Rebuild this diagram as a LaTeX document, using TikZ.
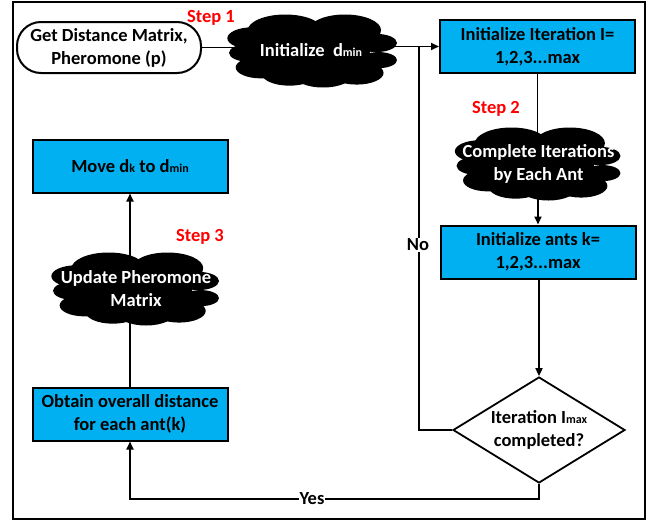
\documentclass[tikz,border=0pt]{standalone}
\usepackage{fontspec}
\setmainfont{Carlito}
\usetikzlibrary{shapes.geometric,arrows.meta}
\definecolor{boxblue}{HTML}{00B0F0}
\definecolor{stepred}{HTML}{FF0000}
\newcommand{\lowsub}[1]{{\fontsize{12}{12}\selectfont #1}}
\newcommand{\puff}[3]{\fill[black] ({#1*\cw},{-#2*\ch}) ellipse[x radius={#3*\cw*1pt}, y radius={#3*\ch*1pt}];}
\newcommand{\drawcloud}[4]{%
  \def\cw{#3}\def\ch{#4}%
  \begin{scope}[shift={(#1,#2)}]
    \puff{0}{0}{0.68}
    \puff{-0.33}{0.55}{0.45}
    \puff{0.38}{0.57}{0.43}
    \puff{-0.72}{0.35}{0.30}
    \puff{-0.75}{-0.05}{0.25}
    \puff{-0.62}{-0.45}{0.30}
    \puff{-0.28}{-0.62}{0.33}
    \puff{0.12}{-0.65}{0.35}
    \puff{0.52}{-0.60}{0.32}
    \puff{0.78}{-0.25}{0.22}
    \puff{0.75}{0.22}{0.25}
  \end{scope}}
\begin{document}
\begin{tikzpicture}[x=1pt,y=-1pt,
  every node/.style={font=\bfseries\fontsize{18.5}{23}\selectfont},
  procbox/.style={draw=black, line width=2, fill=boxblue, minimum width=195, minimum height=53, align=center, inner sep=0},
  startbox/.style={draw=black, line width=2, rounded corners=24, minimum width=184, minimum height=51, align=center, inner sep=0},
  cloudbox/.style={rectangle, inner sep=0},
  cloudtext/.style={text=white, align=center},
  conn/.style={line width=1.8},
  arr/.style={conn, -{Triangle[length=8,width=7]}},
  steplabel/.style={text=stepred},
  lbl/.style={fill=white, inner sep=1}
]
\useasboundingbox (0,0) rectangle (655,522);
\draw[line width=2] (13,2) rectangle (645,519);
% nodes
\node[startbox] (start) at (109,47.5) {Get Distance Matrix,\\Pheromone (p)};
\node[steplabel] (s1) at (211,18) {Step 1};
\node[cloudbox, minimum width=168, minimum height=72] (c1) at (313,51) {};
\node[procbox] (b1) at (537.5,46.5) {Initialize Iteration I=\\1,2,3...max};
\node[steplabel] (s2) at (496,109) {Step 2};
\node[cloudbox, minimum width=163, minimum height=72] (c2) at (538.5,164) {};
\node[procbox] (b2) at (538,252) {Initialize ants k=\\1,2,3...max};
\node[diamond, draw, line width=1.8, minimum width=172, minimum height=106, inner sep=0] (dia) at (539,430) {};
\node[align=center] (diat) at (dia) {Iteration I\lowsub{max}\\completed?};
\node[procbox] (ob) at (130,414) {Obtain overall distance\\for each ant(k)};
\node[cloudbox, minimum width=164, minimum height=72] (c3) at (136,289) {};
\node[steplabel] (s3) at (200,237) {Step 3};
\node[procbox] (mv) at (130,166) {Move d\lowsub{k} to d\lowsub{min}};
\coordinate (nj) at (419,47);
\coordinate (yc) at (539,499);
% connectors (drawn below the clouds)
\draw[conn] (start.east) -- (start.east -| c1.center);
\draw[arr] (c1.center |- b1.west) -- (b1.west);
\draw[conn] (b1.south) -- (b1.south |- c2.center);
\draw[arr] (c2.center -| b2.north) -- (b2.north);
\draw[arr] (b2.south -| dia.north) -- (dia.north);
\draw[conn] (dia.west) -| (nj);
\node[lbl] (no) at (418,245) {No};
\draw[arr] (dia.south) -- (yc) -| (ob.south);
\node[lbl] (yes) at (312,499) {Yes};
\draw[conn] (ob.north) -- (ob.north |- c3.center);
\draw[arr] (mv.south |- c3.center) -- (mv.south);
% clouds
\drawcloud{313}{51}{84}{36.5}
\drawcloud{538.5}{164}{82}{36.5}
\drawcloud{136}{289}{83}{36.5}
\node[cloudtext] (c1t) at (311,50) {Initialize\ \ d\lowsub{min}};
\node[cloudtext] (c2t) at (c2) {Complete Iterations\\by Each Ant};
\node[cloudtext] (c3t) at (c3) {Update Pheromone\\Matrix};
\end{tikzpicture}
\end{document}
